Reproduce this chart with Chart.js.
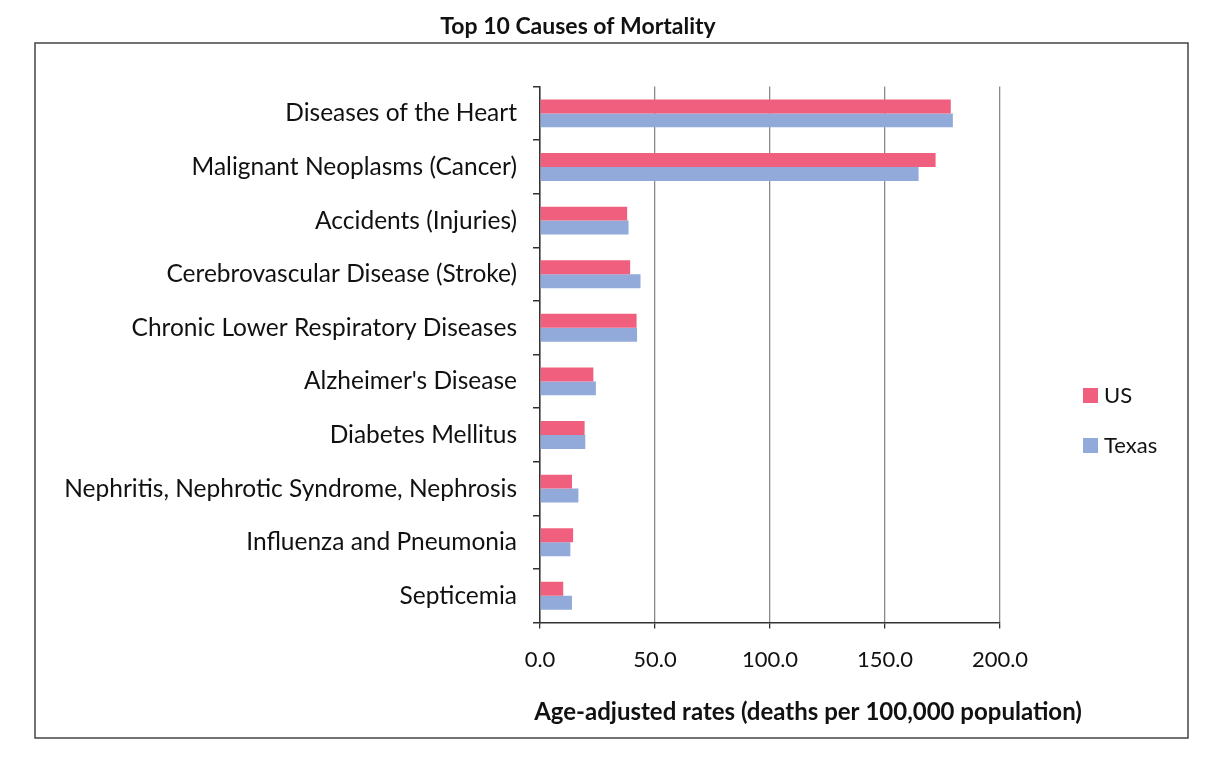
<!DOCTYPE html>
<html>
<head>
<meta charset="utf-8">
<script src="https://cdn.jsdelivr.net/npm/chart.js@4.4.1/dist/chart.umd.min.js"></script>
<style>
html,body{margin:0;padding:0;background:#fff;}
#wrap{width:1215px;height:762px;position:relative;}
</style>
</head>
<body>
<div id="wrap"><canvas id="c" width="1215" height="762"></canvas></div>
<script>
const chartTitle = 'Top 10 Causes of Mortality';
const xAxisTitle = 'Age-adjusted rates (deaths per 100,000 population)';
const categories = [
  'Diseases of the Heart',
  'Malignant Neoplasms (Cancer)',
  'Accidents (Injuries)',
  'Cerebrovascular Disease (Stroke)',
  'Chronic Lower Respiratory Diseases',
  "Alzheimer's Disease",
  'Diabetes Mellitus',
  'Nephritis, Nephrotic Syndrome, Nephrosis',
  'Influenza and Pneumonia',
  'Septicemia'
];
const usRates = [178.6, 172.0, 37.9, 39.2, 42.0, 23.2, 19.4, 13.9, 14.4, 10.1];
const texasRates = [179.5, 164.6, 38.5, 43.7, 42.2, 24.3, 19.7, 16.7, 13.2, 13.9];
const xTickValues = [0, 50, 100, 150, 200];

const FONT = 'Lato, "Open Sans", sans-serif';

const frame = {
  id: 'frame',
  afterLayout(chart) {
    // centre the chart title over the whole frame, as in the original
    if (chart.titleBlock) {
      chart.titleBlock.left = 156;
    }
  },
  beforeDraw(chart) {
    const ctx = chart.ctx;
    ctx.save();
    ctx.fillStyle = '#fff';
    ctx.fillRect(0, 0, chart.width, chart.height);
    ctx.restore();
  },
  afterDraw(chart) {
    const ctx = chart.ctx;
    ctx.save();
    ctx.strokeStyle = '#444';
    ctx.lineWidth = 1.5;
    ctx.strokeRect(35, 43, 1153, 695);
    // x axis title (wider than the plot area, as in the original)
    ctx.font = 'bold 24px ' + FONT;
    ctx.fillStyle = '#111';
    ctx.textAlign = 'center';
    ctx.textBaseline = 'middle';
    ctx.fillText(xAxisTitle, 808, 712);
    // custom legend from datasets
    const ds = chart.data.datasets;
    ctx.font = '22px ' + FONT;
    ctx.textAlign = 'left';
    ds.forEach((d, i) => {
      const y = 395 + i * 50;
      ctx.fillStyle = d.backgroundColor;
      ctx.fillRect(1083, y - 7, 15, 15);
      ctx.fillStyle = '#111';
      ctx.fillText(d.label, 1104, y + 1);
    });
    ctx.restore();
  }
};

new Chart(document.getElementById('c'), {
  type: 'bar',
  data: {
    labels: categories,
    datasets: [
      { label: 'US', data: usRates, backgroundColor: '#f0607e', borderWidth: 0 },
      { label: 'Texas', data: texasRates, backgroundColor: '#92aad9', borderWidth: 0 }
    ]
  },
  plugins: [frame],
  options: {
    indexAxis: 'y',
    responsive: false,
    animation: false,
    events: [],
    categoryPercentage: 0.52,
    barPercentage: 1.0,
    layout: { padding: { left: 0, right: 215, top: 0, bottom: 71 } },
    plugins: {
      legend: { display: false },
      tooltip: { enabled: false },
      title: {
        display: true,
        text: chartTitle,
        color: '#111',
        font: { family: FONT, size: 23, weight: 'bold' },
        padding: { top: 13, bottom: 46 }
      }
    },
    scales: {
      x: {
        min: 0,
        max: 200,
        afterBuildTicks(scale) { scale.ticks = xTickValues.map(v => ({ value: v })); },
        ticks: {
          color: '#111',
          font: { family: FONT, size: 22 },
          padding: 18,
          callback: v => Number(v).toFixed(1)
        },
        grid: { color: '#8a8a8a', lineWidth: 1.3, tickLength: 6, tickColor: '#333' },
        border: { color: '#333', width: 1.5 },
        title: { display: false, text: xAxisTitle }
      },
      y: {
        afterFit(scale) { scale.width = 540; },
        ticks: {
          color: '#111',
          font: { family: FONT, size: 24.5 },
          padding: 16,
          autoSkip: false
        },
        grid: { drawOnChartArea: false, offset: true, tickLength: 7, color: '#333', lineWidth: 1.5 },
        border: { color: '#333', width: 1.5 }
      }
    }
  }
});
</script>
</body>
</html>
